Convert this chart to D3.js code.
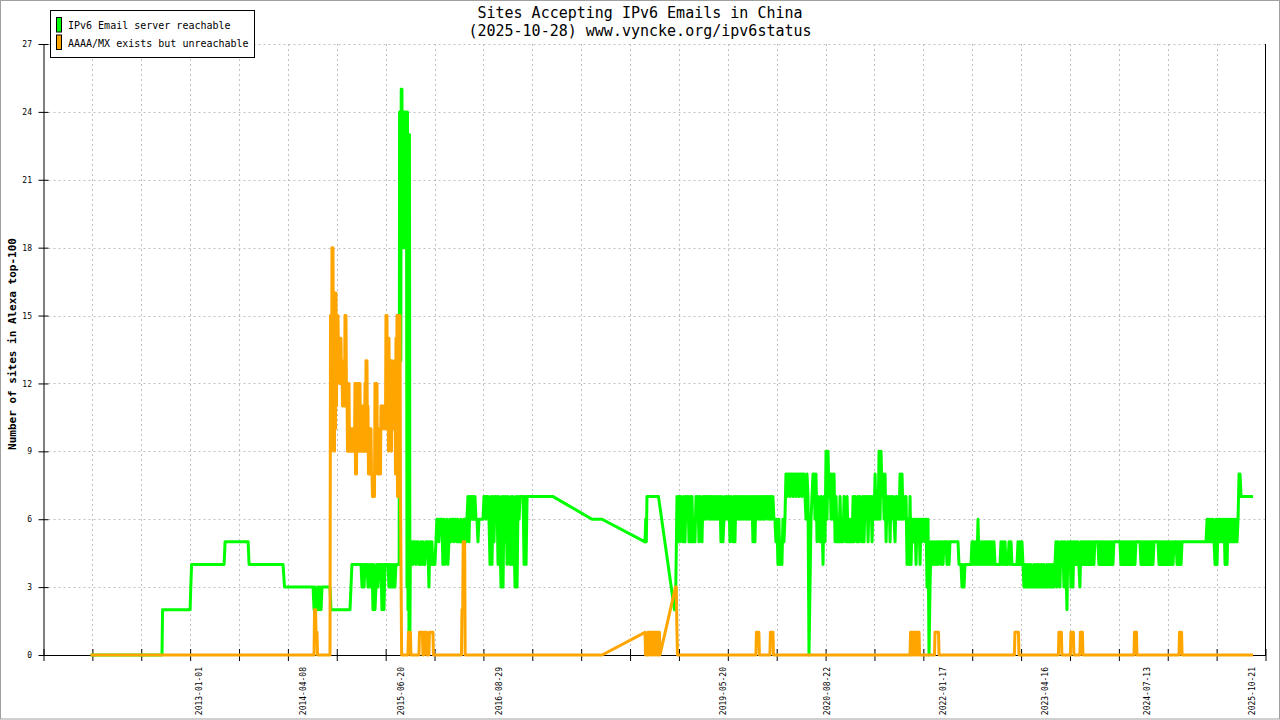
<!DOCTYPE html>
<html><head><meta charset="utf-8">
<script src="https://cdn.jsdelivr.net/npm/d3@7"></script>
<style>body{margin:0;background:#fff}svg{display:block}</style>
</head><body>
<svg id="chart" width="1280" height="720"></svg>
<script>
// ---------------- data ----------------
const titleLines = ["Sites Accepting IPv6 Emails in China", "(2025-10-28) www.vyncke.org/ipv6status"];
const yAxisLabel = "Number of sites in Alexa top-100";
const seriesNames = ["IPv6 Email server reachable", "AAAA/MX exists but unreachable"];
const seriesColors = ["#00ff00", "#ffa500"];
const yTicks = [0, 3, 6, 9, 12, 15, 18, 21, 24, 27];
const xDomainYears = [2011.1225, 2025.9725];
const xTickIntervals = 25;
const xLabelDates = ["2013-01-01", "2014-04-08", "2015-06-20", "2016-08-29", "2019-05-20",
  "2020-08-22", "2022-01-17", "2023-04-16", "2024-07-13", "2025-10-21"];

// [decimal year, value]
const greenKnots = [
  [2011.695,0],[2012.562,0],[2012.569,2],[2012.903,2],[2012.911,3],[2012.921,4],[2013.316,4],[2013.328,5],
  [2013.608,5],[2013.620,4],[2014.033,4],[2014.051,3],
  [2014.604,3],[2014.616,2],[2014.847,2],[2014.859,3],[2014.871,4],
  [2015.445,4],[2015.450,24],[2015.455,14],[2015.460,24],[2015.465,13],[2015.470,25],[2015.474,24],[2015.479,25],
  [2015.484,18],[2015.489,24],[2015.495,18],[2015.501,24],[2015.506,18],[2015.511,24],[2015.517,18],[2015.521,24],
  [2015.528,18],[2015.534,24],[2015.540,3],[2015.546,24],[2015.552,2],[2015.558,23],[2015.564,1],[2015.570,23],
  [2015.576,1],[2015.582,5],
  [2017.314,7],[2017.788,6],[2017.910,6],[2018.432,5],[2018.441,6],[2018.448,5],[2018.456,7],[2018.596,7],
  [2018.790,2],[2018.803,2],
  [2025.249,5],
  [2025.821,7]
];
// [from year, to year, evenly spaced samples]
const greenRuns = [
  [2014.398, 2014.507, [3,2,3,2,2,3,2,3,2,3]],
  [2014.884, 2015.430, [4,4,4,4,4,4,4,4,4, 3,4,3,4,4,4, 3,4,3,4,4, 2,4,2,3,4,3,4,4,4, 2,4,2,4,4,4,4, 3,4,3,4,3,4,3,4,4,4]],
  [2015.588, 2016.998, [4,5,4,5,5,4,5,5,4,4,5,4,5,4,4,5,5,5,3,5,4,5,4,4,4,5,
    6,6,5,6,6,6,4,6,4,5,6,4,5,6,5,6,6,5,6,6,5,6,5,5,6,5,5,6,6,5,6,7,5,7,
    7,6,7,6,7,6,6,5,6,6,6,6,6,7,7,6,7,
    7,6,4,7,4,7,5,7,6,7,4,7,5,3,7,3,
    7,5,7,4,7,5,4,7,4,7,5,3,7,3,
    7,6,7,7,7,7,4,7,4,7]],
  [2018.821, 2020.012, [7,5,7,5,7,6,5,7,5,7,6,7,5,7,5,7,5,6,5,7,6,7,5,7,
    6,5,7,6,7,6,7,7,6,7,6,7,6,7,6,7,6,7,6,7,
    5,7,5,6,7,6,7,6,7,5,7,6,5,7,5,7,6,7,6,7,
    6,7,6,7,6,7,6,7,6,7,6,7,5,7,5,7,6,7,6,7,6,7,6,7,6,7,7,6,7,6,7,6,7,6,6]],
  [2020.024, 2020.401, [5,6,4,6,4,5,4,6,5,6,8, 7,8,8,7,8,8,7,8,8,7,8,8,7,8,8,7,8,8,7,6,8]],
  [2020.413, 2020.960, [7,0,3,6,7,8, 8,6,8,5,7,6,5,7,6,4,7,5,9,6,9,7,8,
    6,8,6,8,5,7,5,6,5,7,5,6,5,7,6,5,7,5,6,5,6,5,7]],
  [2020.972, 2021.689, [5,7,6,5,7,5,7,6,5,7,5,7,6,7,5,7,6,7,5,7,
    6,8,6,7,6,9,6,9,7,8,6,8,5,7,6,7,5,
    7,6,7,6,5,7,6,7,6,8,6,8,6,7,6,7,4,6,4,7,4,6,6]],
  [2021.701, 2022.260, [5,6,4,6,5,6,4,6,5,6,6,5,6,3,6,0,3,5,4,5,
    4,5,4,5,4,5,5,4,5,4,5,5,5,4,5,4,5,5,5,5,5,5,5,5,5,4,4]],
  [2022.272, 2023.026, [4,3,4,3,4,4,4,4,4,4,4,5,4,5,4,5,4,6,4,5,4,5,4,5,4,5,4,5,4,5,4,5,4,5,4,4,4,4,4,4,
    5,4,5,4,5,4,4,4,5,4,5,4,4,4,4,4,4,5,4,5,4,5,4]],
  [2023.038, 2023.597, [3,4,3,4,3,4,3,4,3,3,4,3,4,3,4,3,4,3,4,3,4,3,3,4,3,4,3,4,3,4,3,4,
    5,3,5,4,3,5,4,5,3,5, 4,2,5,4,5]],
  [2023.609, 2024.970, [3,5,3,5,4,5,4,5,4,3,5,4,5,4,5,4,5,4,5,4,5,4,5,4,5,
    5,5,5,4,5,4,5,4,5,4,5,4,5,4,5,4,5,4,5,5,5,5,5,5,5,
    4,5,4,5,4,5,4,5,4,5,4,5,4,5,4,5,5,5,5,5,4,5,4,5,4,
    5,4,5,4,5,4,5,4,5,5,5,5,5,4,5,4,5,4,5,4,5,4,5,4,5,
    4,5,4,5,5,5,4,5,4,5,4,5,5]],
  [2025.262, 2025.675, [6,5,6,5,6,5,6,5,4,6,4,6,5,6,5,6,5,6,4,6,4,6,5,6,5,6,5,6,5,6,5,6,8,8,7]]
];

const orangeKnots = [
  [2011.695,0],[2014.410,0],[2014.416,2],[2014.428,2],[2014.434,1],[2014.446,1],[2014.452,0],[2014.604,0],[2014.610,15],
  [2015.475,0],
  [2015.552,0],[2015.558,1],[2015.582,1],[2015.588,0],
  [2015.686,0],[2015.692,1],[2015.728,1],[2015.734,0],[2015.746,0],[2015.752,1],[2015.777,1],[2015.783,0],
  [2015.807,0],[2015.813,1],[2015.856,1],[2015.862,0],
  [2016.202,0],[2016.208,2],[2016.217,2],[2016.223,5],[2016.241,5],[2016.247,0],
  [2017.910,0],[2018.432,1],[2018.439,0],[2018.462,0],
  [2018.803,3],[2018.812,3],[2018.821,1],[2018.827,0],
  [2019.781,0],[2019.787,1],[2019.817,1],[2019.823,0],
  [2019.951,0],[2019.957,1],[2019.988,1],[2019.994,0],
  [2021.652,0],[2021.768,0],
  [2021.950,0],[2021.956,1],[2021.999,1],[2022.005,0],
  [2022.922,0],[2022.928,1],[2022.971,1],[2022.977,0],
  [2023.457,0],[2023.463,1],[2023.493,1],[2023.499,0],
  [2023.603,0],[2023.609,1],[2023.639,1],[2023.645,0],
  [2023.718,0],[2023.724,1],[2023.749,1],[2023.755,0],
  [2024.375,0],[2024.381,1],[2024.405,1],[2024.411,0],
  [2024.921,0],[2024.927,1],[2024.952,1],[2024.958,0],
  [2025.821,0]
];
const orangeRuns = [
  [2014.616, 2015.461, [
    15,9, 18,10, 18,10, 16,9, 16,10, 16,11, 15,13, 15,13, 14,12, 14,12,
    14,12, 13,11, 12,11, 13,11, 15,11, 15,11, 12,9, 12,9, 12,9, 10,9,
    10,9, 10,9, 10,9, 10,9, 12,8, 12,8, 12,9, 12,9, 12,9, 12,9,
    11,9, 11,9, 11,9, 11,9, 12,9, 13,9, 13,9, 11,8, 10,8, 10,8,
    10,8, 8,7, 8,7, 8,7, 12,9, 12,9, 12,8, 10,8, 10,8, 10,8,
    11,10, 11,10, 11,10, 11,10, 11,10, 15,10, 15,10, 14,9, 14,10, 13,10,
    13,9, 13,12, 12,10, 12,10, 13,8, 14,8, 15,7, 15,7, 15,7, 15,7]],
  [2018.468, 2018.614, [1,0,1,1,0,1,1,0,1,0,1,1,0,1,1,0,1,0,1,1,0,1,0,1,0]],
  [2021.659, 2021.762, [1,0,1,0,1,1,0,1,0,1,0,1,1,0,1,0,1,1]]
];

// ---------------- helpers ----------------
function yearToDate(v) {
  const Y = Math.floor(v);
  const s = Date.UTC(Y, 0, 1), e = Date.UTC(Y + 1, 0, 1);
  return new Date(s + (v - Y) * (e - s));
}
function buildSeries(knots, runs) {
  const pts = knots.slice();
  runs.forEach(([a, b, vals]) => {
    vals.forEach((v, i) => pts.push([a + (b - a) * i / (vals.length - 1), v]));
  });
  return pts.sort((p, q) => p[0] - q[0]);
}

// ---------------- chart ----------------
const svg = d3.select("#chart");
const mono = "'DejaVu Sans Mono', 'Liberation Mono', monospace";
const plotL = 43.5, plotR = 1265.5, plotT = 44, plotB = 655;

svg.append("rect").attr("x", 0.5).attr("y", 0.5).attr("width", 1279).attr("height", 718.5)
  .attr("fill", "#fff").attr("stroke", "#a0a0a0");

const d0 = yearToDate(xDomainYears[0]), d1 = yearToDate(xDomainYears[1]);
const x = d3.scaleUtc().domain([d0, d1]).range([plotL, plotR]);
const y = d3.scaleLinear().domain([0, 27]).range([plotB, plotT]);

const xTickVals = d3.range(xTickIntervals + 1).map(i => new Date(+d0 + (d1 - d0) * i / xTickIntervals));
const parse = d3.utcParse("%Y-%m-%d");
const labelDates = xLabelDates.map(parse);

// grid
const grid = svg.append("g").attr("stroke", "#c0c0c0").attr("stroke-width", 1).attr("stroke-dasharray", "2,3");
grid.selectAll("line.v").data(xTickVals.slice(1, -1)).join("line")
  .attr("x1", d => Math.round(x(d)) + 0.5).attr("x2", d => Math.round(x(d)) + 0.5)
  .attr("y1", plotT).attr("y2", plotB);
grid.selectAll("line.h").data(yTicks.slice(1)).join("line")
  .attr("x1", plotL + 5).attr("x2", plotR)
  .attr("y1", d => Math.round(y(d)) + 0.5).attr("y2", d => Math.round(y(d)) + 0.5);

// right border
svg.append("line").attr("x1", plotR).attr("x2", plotR).attr("y1", plotT).attr("y2", plotB)
  .attr("stroke", "#000");

// x axis (ticks)
const gx = svg.append("g").attr("transform", `translate(0,${plotB})`)
  .call(d3.axisBottom(x).tickValues(xTickVals).tickFormat("").tickSizeInner(6).tickSizeOuter(0));
gx.select(".domain").attr("stroke", "#000");
gx.selectAll(".tick line").attr("y1", -6).attr("y2", 6).attr("stroke", "#000");

// x labels
const gxl = svg.append("g").attr("transform", `translate(0,${plotB})`)
  .call(d3.axisBottom(x).tickValues(labelDates).tickFormat(d3.utcFormat("%Y-%m-%d")).tickSize(0));
gxl.select(".domain").remove();
gxl.selectAll(".tick text")
  .attr("transform", "rotate(-90)").attr("x", -12).attr("y", 0).attr("dy", "0.36em")
  .style("text-anchor", "end").style("font-family", mono).style("font-size", "8px").attr("fill", "#000");

// y axis
const gy = svg.append("g").attr("transform", `translate(${plotL},0)`)
  .call(d3.axisLeft(y).tickValues(yTicks).tickSizeInner(5).tickSizeOuter(0).tickPadding(6.5));
gy.select(".domain").attr("stroke", "#000");
gy.selectAll(".tick line").attr("x1", 5).attr("x2", -5).attr("stroke", "#000");
gy.selectAll(".tick text").style("font-family", mono).style("font-size", "8px").attr("fill", "#000");

// series
const line = d3.line().x(d => x(yearToDate(d[0]))).y(d => y(d[1]));
const green = buildSeries(greenKnots, greenRuns);
const orange = buildSeries(orangeKnots, orangeRuns);
[[green, seriesColors[0]], [orange, seriesColors[1]]].forEach(([data, col]) => {
  svg.append("path").datum(data).attr("d", line).attr("fill", "none")
    .attr("stroke", col).attr("stroke-width", 3).attr("stroke-linejoin", "round").attr("stroke-linecap", "butt");
});

// title
svg.append("g").selectAll("text").data(titleLines).join("text")
  .attr("x", 640).attr("y", (d, i) => 18 + i * 18).attr("text-anchor", "middle")
  .style("font-family", mono).style("font-size", "15px").attr("fill", "#000").text(d => d);

// y label
svg.append("text").attr("transform", "translate(16,344) rotate(-90)").attr("text-anchor", "middle")
  .style("font-family", mono).style("font-size", "11px").style("font-weight", "bold").text(yAxisLabel);

// legend
const lg = svg.append("g");
lg.append("rect").attr("x", 50.5).attr("y", 10.5).attr("width", 204).attr("height", 47)
  .attr("fill", "#fff").attr("stroke", "#000");
seriesNames.forEach((name, i) => {
  lg.append("rect").attr("x", 56.5).attr("y", 17.5 + i * 17.5).attr("width", 5).attr("height", 14.5)
    .attr("fill", seriesColors[i]).attr("stroke", "#000");
  lg.append("text").attr("x", 68).attr("y", 29 + i * 18)
    .style("font-family", mono).style("font-size", "10px").attr("fill", "#000").text(name);
});
</script>
</body></html>
